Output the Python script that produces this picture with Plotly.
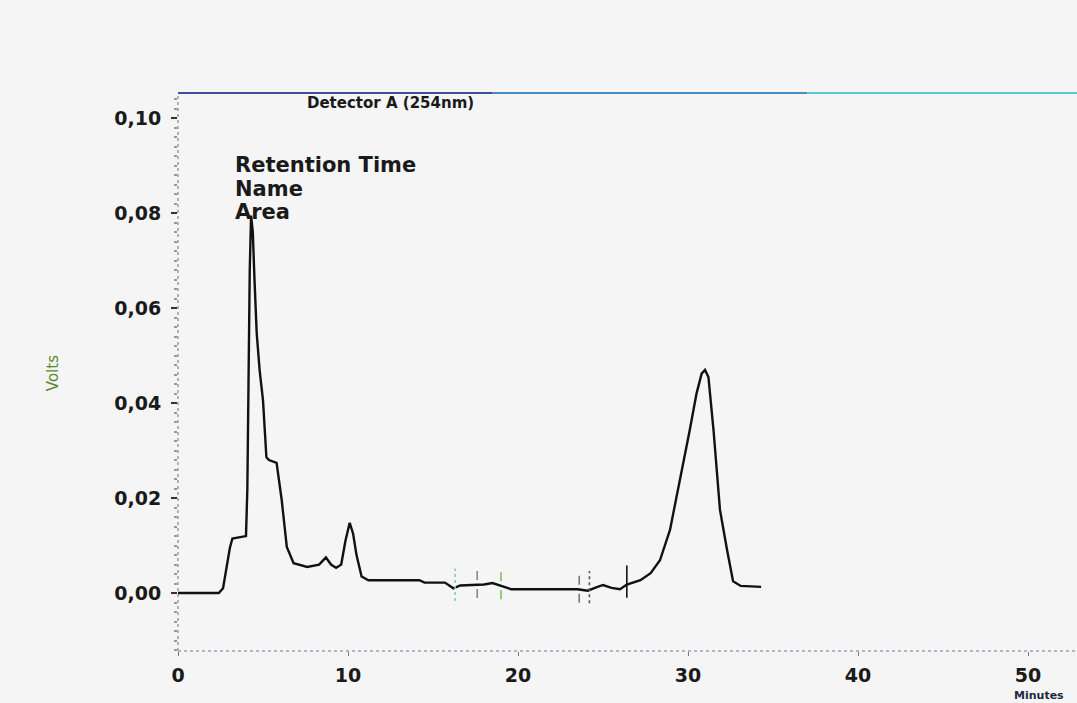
import numpy as np
import plotly.graph_objects as go

# Chromatogram trace (retention time in minutes, detector signal in volts)
time_min = [0.0, 2.4, 2.65, 2.85, 3.05, 3.2, 3.6, 4.0, 4.08, 4.15, 4.22, 4.3,
            4.4, 4.5, 4.63, 4.8, 5.0, 5.2, 5.35, 5.8, 6.1, 6.4, 6.8, 7.6,
            8.3, 8.7, 9.0, 9.3, 9.6, 9.85, 10.1, 10.3, 10.5, 10.8, 11.2,
            14.2, 14.5, 15.7, 16.2, 16.6, 17.3, 18.0, 18.5, 19.0, 19.6,
            23.5, 24.1, 24.6, 25.0, 25.5, 26.0, 26.4, 27.2, 27.8, 28.35,
            28.94, 29.53, 30.1, 30.5, 30.8, 31.0, 31.2, 31.5, 31.88, 32.3,
            32.65, 33.1, 34.3]
signal_v = [0.0, 0.0, 0.001, 0.005, 0.0095, 0.0115, 0.0118, 0.012, 0.022, 0.045, 0.068, 0.0795,
            0.076, 0.066, 0.0547, 0.047, 0.0406, 0.0286, 0.028, 0.0274, 0.0196, 0.0097, 0.0063, 0.0055,
            0.006, 0.0075, 0.006, 0.0053, 0.006, 0.011, 0.0148, 0.0125, 0.008, 0.0035, 0.0027,
            0.0027, 0.0022, 0.0022, 0.001, 0.0016, 0.0017, 0.0018, 0.0021, 0.0015, 0.0008,
            0.0008, 0.0005, 0.0012, 0.0017, 0.0011, 0.0008, 0.0018, 0.0027, 0.0042, 0.0069,
            0.0133, 0.0238, 0.0343, 0.042, 0.0462, 0.047, 0.0455, 0.0343, 0.0175, 0.009,
            0.0025, 0.0015, 0.0013]

# Integration markers (peak start/end)
marker_times = [16.3, 17.6, 19.0, 23.6, 24.2, 26.4]
marker_colors = ["#86c6cc", "#8a8a8a", "#7cbf5c", "#7a7a7a", "#555555", "#111111"]
marker_dash = ["dot", "dash", "dash", "dash", "dot", "solid"]

x_ticks = [0, 10, 20, 30, 40, 50]
y_ticks = [0.0, 0.02, 0.04, 0.06, 0.08, 0.10]

x_range = [0, 52.88]
y_range = [-0.0122, 0.1053]

tick_font = dict(family="DejaVu Sans", size=19, color="#1a1a1a", weight="bold")

fig = go.Figure()

fig.add_trace(go.Scatter(
    x=time_min, y=signal_v, mode="lines",
    line=dict(color="#111111", width=2.4),
    hoverinfo="skip", showlegend=False,
))

for t, c, d in zip(marker_times, marker_colors, marker_dash):
    v = float(np.interp(t, time_min, signal_v))
    fig.add_trace(go.Scatter(
        x=[t, t], y=[v - 0.0028, v + 0.004], mode="lines",
        line=dict(color=c, width=1.6, dash=d),
        hoverinfo="skip", showlegend=False,
    ))

shapes = [
    # dotted axis lines
    dict(type="line", xref="paper", yref="paper", x0=0, x1=0, y0=0, y1=1,
         line=dict(color="#9a9a9a", width=1.5, dash="dot")),
    dict(type="line", xref="paper", yref="paper", x0=0, x1=1, y0=0, y1=0,
         line=dict(color="#8ea4c2", width=1.5, dash="dot")),
    # top frame line, blue to cyan
    dict(type="line", xref="paper", yref="paper", x0=0, x1=0.35, y0=1, y1=1,
         line=dict(color="#3d4f9c", width=2)),
    dict(type="line", xref="paper", yref="paper", x0=0.35, x1=0.7, y0=1, y1=1,
         line=dict(color="#4a8cc2", width=2)),
    dict(type="line", xref="paper", yref="paper", x0=0.7, x1=1, y0=1, y1=1,
         line=dict(color="#58c4d0", width=2)),
]

text_font = dict(family="DejaVu Sans", size=21, color="#1a1a1a", weight="bold")
annotations = [
    dict(text="Detector A (254nm)", xref="paper", yref="paper", x=0.1413, y=0.982,
         xanchor="left", yanchor="middle", showarrow=False,
         font=dict(family="DejaVu Sans", size=15, color="#1a1a1a", weight="bold")),
    dict(text="Retention Time", xref="paper", yref="paper", x=0.0612, y=0.871,
         xanchor="left", yanchor="middle", showarrow=False, font=text_font),
    dict(text="Name", xref="paper", yref="paper", x=0.0612, y=0.828,
         xanchor="left", yanchor="middle", showarrow=False, font=text_font),
    dict(text="Area", xref="paper", yref="paper", x=0.0612, y=0.787,
         xanchor="left", yanchor="middle", showarrow=False, font=text_font),
    dict(text="Volts", xref="paper", yref="paper", x=-0.139, y=0.498,
         xanchor="center", yanchor="middle", textangle=-90, showarrow=False,
         font=dict(family="DejaVu Sans", size=15, color="#5b8a2e")),
    dict(text="Minutes", xref="paper", yref="paper", x=0.958, y=-0.0935,
         xanchor="center", yanchor="bottom", showarrow=False, borderpad=0,
         font=dict(family="DejaVu Sans", size=11, color="#1d2a40", weight="bold")),
]

fig.update_layout(
    width=1077, height=703,
    margin=dict(l=178, r=0, t=93, b=52),
    paper_bgcolor="#f5f5f5", plot_bgcolor="#f5f5f5",
    separators=",.",
    shapes=shapes, annotations=annotations,
    xaxis=dict(
        range=x_range, tickvals=x_ticks, ticktext=[str(v) for v in x_ticks],
        showgrid=False, zeroline=False, showline=False,
        ticks="outside", ticklen=4, tickcolor="#777777", tickwidth=1,
        ticklabelstandoff=3, tickfont=tick_font,
    ),
    yaxis=dict(
        range=y_range, tickvals=y_ticks, tickformat=".2f",
        showgrid=False, zeroline=False, showline=False,
        ticks="outside", ticklen=6, tickcolor="#333333", tickwidth=1.5,
        ticklabelstandoff=6, tickfont=tick_font,
        minor=dict(ticks="outside", ticklen=3, dtick=0.002, tickcolor="#9a9a9a"),
    ),
)

fig.write_html("out.html")
